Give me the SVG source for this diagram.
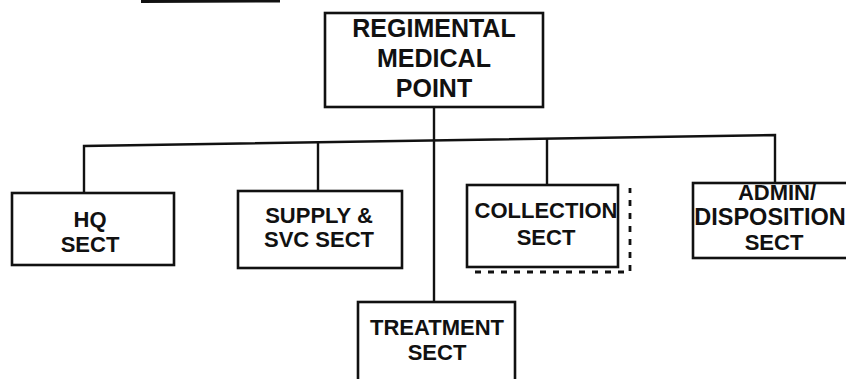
<svg xmlns="http://www.w3.org/2000/svg" width="846" height="379" viewBox="0 0 846 379">
<style>
.box{fill:#fff;stroke:#111;stroke-width:2.6}
.ln{fill:none;stroke:#111;stroke-width:2.4}
.dash{fill:none;stroke:#111;stroke-width:2.8;stroke-dasharray:6 7}
text{font-family:"Liberation Sans",Arial,sans-serif;font-weight:bold;fill:#111;text-anchor:middle}
.t1{font-size:25px}
.t2{font-size:22px}
</style>
<rect width="846" height="379" fill="#fff"/>
<line x1="141" y1="1.5" x2="280" y2="1" stroke="#111" stroke-width="3"/>
<g id="connectors">
<path class="ln" d="M84 193 V146 L775 135 V183"/>
<path class="ln" d="M318 191 V142"/>
<path class="ln" d="M547 185 V139"/>
<path class="ln" d="M434 107 V302"/>
</g>
<g id="rmp">
<rect class="box" x="325" y="13" width="218" height="94"/>
<text class="t1" x="434" y="37">REGIMENTAL</text>
<text class="t1" x="434" y="67">MEDICAL</text>
<text class="t1" x="434" y="97">POINT</text>
</g>
<g id="hq">
<rect class="box" x="12" y="193" width="162" height="72"/>
<text class="t2" x="90" y="227">HQ</text>
<text class="t2" x="90" y="252">SECT</text>
</g>
<g id="supply">
<rect class="box" x="238" y="191" width="164" height="77"/>
<text class="t2" x="319" y="223">SUPPLY &amp;</text>
<text class="t2" x="319" y="247">SVC SECT</text>
</g>
<g id="collection">
<path class="dash" d="M475 272 H630 V188"/>
<rect class="box" x="467" y="185" width="151" height="82"/>
<text class="t2" x="546" y="218">COLLECTION</text>
<text class="t2" x="546" y="245">SECT</text>
</g>
<g id="admin">
<rect class="box" x="693" y="183" width="160" height="75"/>
<text class="t2" x="777" y="200">ADMIN/</text>
<text x="770" y="225" style="font-size:23.5px">DISPOSITION</text>
<text class="t2" x="774" y="250">SECT</text>
</g>
<g id="treatment">
<rect class="box" x="358" y="302" width="157" height="90"/>
<text class="t2" x="437" y="335">TREATMENT</text>
<text class="t2" x="437" y="360">SECT</text>
</g>
</svg>
